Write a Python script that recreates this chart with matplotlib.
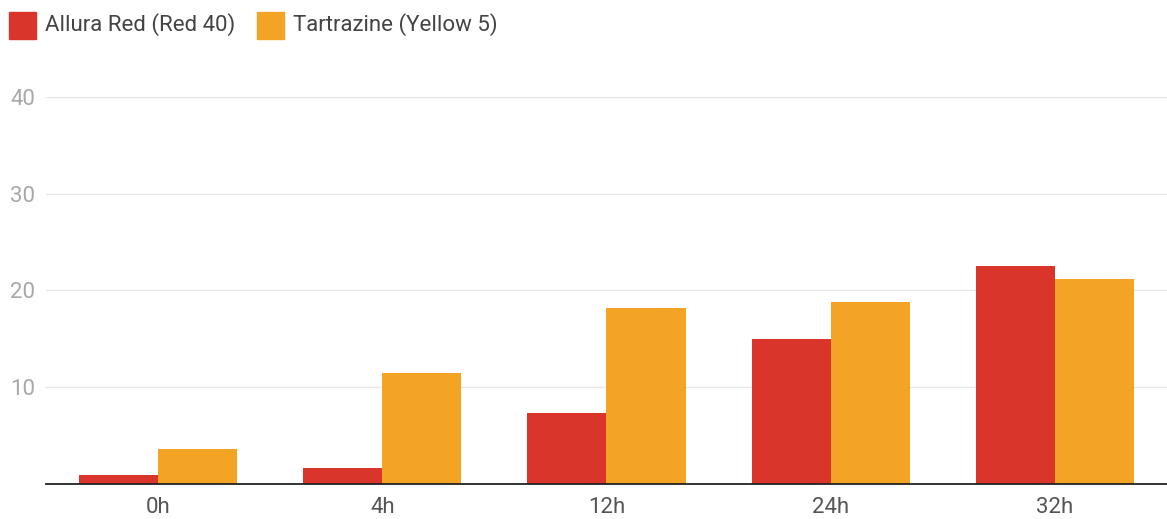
import numpy as np
import matplotlib.pyplot as plt
from matplotlib.patches import Rectangle

plt.rcParams['font.family'] = ['Roboto', 'DejaVu Sans']

# Dye levels at each sampling time
times = ["0h", "4h", "12h", "24h", "32h"]
allura_red = [0.9, 1.7, 7.3, 15.0, 22.5]
tartrazine = [3.6, 11.5, 18.2, 18.8, 21.2]
series_names = ["Allura Red (Red 40)", "Tartrazine (Yellow 5)"]
yticks = [10, 20, 30, 40]

red = "#d9352a"
yellow = "#f4a425"

fig = plt.figure(figsize=(11.67, 5.19), dpi=100)
ax = fig.add_axes([0.0394, 0.0674, 0.9606, 0.7463])

x = np.arange(len(times))
w = 0.353
ax.bar(x - w/2, allura_red, width=w, color=red, zorder=3)
ax.bar(x + w/2, tartrazine, width=w, color=yellow, zorder=3)

ax.set_xlim(-0.5, len(times) - 0.5)
ax.set_ylim(0, 40)
ax.set_yticks(yticks)
ax.set_xticks(x)
ax.set_xticklabels(times)
ax.grid(axis='y', color='#e6e6e6', linewidth=1, zorder=0)
ax.tick_params(axis='both', length=0)
ax.tick_params(axis='y', labelcolor='#a8a8a8', labelsize=16, pad=8)
ax.tick_params(axis='x', labelcolor='#555555', labelsize=16, pad=9)
for side in ['top', 'right', 'left']:
    ax.spines[side].set_visible(False)
ax.spines['bottom'].set_color('#222222')
ax.spines['bottom'].set_linewidth(1.3)
ax.spines['bottom'].set_zorder(4)

# legend across the top, drawn in pixel coordinates
def legend_item(x0, color, label):
    fig.patches.append(Rectangle((x0 / 1167, 1 - 39 / 519), 27 / 1167, 27 / 519,
                                 transform=fig.transFigure, color=color))
    fig.text((x0 + 36) / 1167, 1 - 25 / 519, label, fontsize=16,
             color='#444444', va='center', ha='left')

legend_item(9, red, series_names[0])
legend_item(257, yellow, series_names[1])

fig.savefig("out.png", dpi=100)
